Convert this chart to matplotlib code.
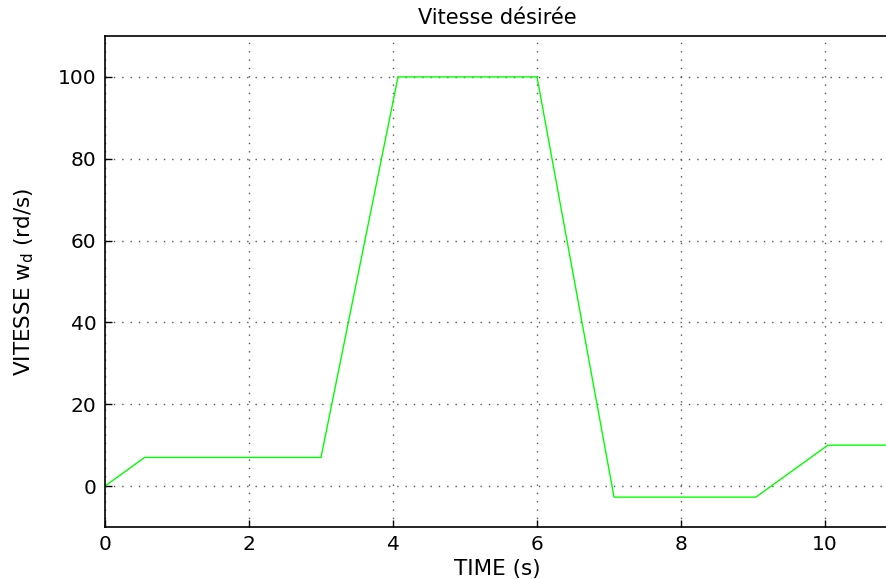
import matplotlib
matplotlib.use("Agg")
import matplotlib.pyplot as plt

# desired speed profile (breakpoints)
t = [0, 0.55, 3.0, 4.07, 6.0, 7.07, 9.04, 10.04, 10.95]
w_d = [0, 7, 7, 100, 100, -2.7, -2.7, 10, 10]

xticks = [0, 2, 4, 6, 8, 10]
yticks = [0, 20, 40, 60, 80, 100]

plt.rcParams["font.family"] = ["DejaVu Sans"]
plt.rcParams["mathtext.fontset"] = "dejavusans"

W, H = 886, 579
fig = plt.figure(figsize=(W / 100, H / 100), dpi=100)
# axes box in pixels: left 105, right ~890 (cut off), top 36, bottom 527
ax = fig.add_axes([105 / W, (H - 527) / H, (890 - 105) / W, (527 - 36) / H])

ax.plot(t, w_d, color="#00ff00", linewidth=1.0)

ax.set_xlim(0, (890 - 105) / 72)
ax.set_ylim(-10, 110)
ax.set_xticks(xticks)
ax.set_yticks(yticks)
ax.tick_params(direction="in", length=5, width=1, labelsize=14.5, pad=6)

# matlab style dotted grid
ax.grid(True, linestyle=(0, (1, 5)), color="#555555", linewidth=1.0)
for s in ax.spines.values():
    s.set_linewidth(1.2)
ax.spines["right"].set_visible(False)

ax.set_xlabel("TIME (s)", fontsize=15.5, labelpad=3)
ax.set_ylabel("VITESSE w$_\\mathregular{d}$ (rd/s)", fontsize=15.5)
ax.yaxis.set_label_coords(-0.088, 0.5)
ax.set_title("Vitesse désirée", fontsize=15, pad=9)

plt.savefig("out.png", dpi=100)
